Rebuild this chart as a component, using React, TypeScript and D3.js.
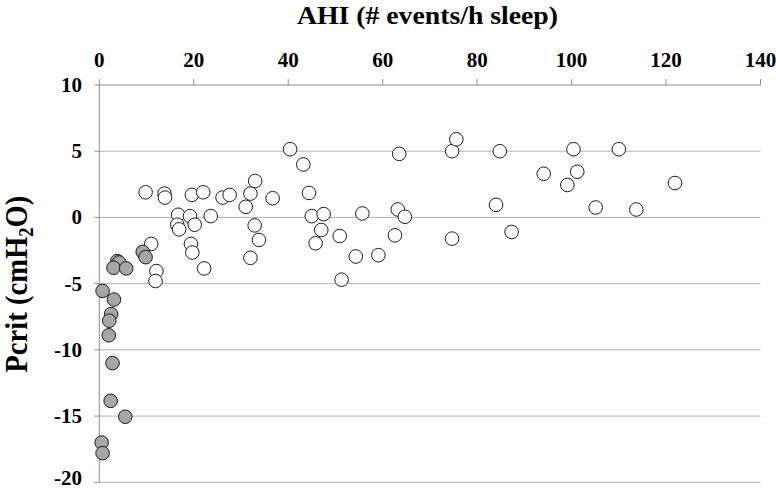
import React from 'react'
import * as d3 from 'd3'

// Pcrit vs AHI, grey = low AHI group, white = the rest
const greyAhi = [3.8, 4.2, 3.0, 5.7, 9.2, 9.8, 0.7, 3.1, 2.5, 2.1, 2.0, 2.8, 2.4, 5.5, 0.5, 0.7]
const greyPcrit = [-3.3, -3.4, -3.8, -3.85, -2.6, -3.0, -5.55, -6.2, -7.3, -7.8, -8.9, -11.0, -13.85, -15.05, -17.0, -17.8]

const whiteAhi = [
	9.8, 13.8, 13.9, 19.6, 22.0, 26.1, 27.6, 32.0, 33.0, 31.0,
	16.7, 19.2, 23.6, 16.5, 16.9, 20.2, 32.9, 33.8, 11.0, 19.4,
	19.7, 32.0, 22.2, 12.1, 11.9, 40.4, 43.2, 36.7, 44.4, 45.0,
	47.5, 55.7, 63.2, 64.7, 84.0, 47.0, 45.8, 50.9, 62.6, 74.7,
	87.3, 54.3, 59.1, 51.3, 63.5, 74.7, 75.6, 84.8, 100.4, 110.0,
	94.1, 101.2, 99.1, 121.9, 105.1, 113.7,
]
const whitePcrit = [
	1.9, 1.8, 1.5, 1.7, 1.9, 1.5, 1.7, 1.8, 2.75, 0.8,
	0.2, 0.1, 0.1, -0.55, -0.9, -0.55, -0.6, -1.7, -2.0, -2.0,
	-2.65, -3.05, -3.85, -4.05, -4.8, 5.15, 4.0, 1.45, 1.85, 0.1,
	0.25, 0.3, 0.6, 0.05, 0.95, -0.95, -1.95, -1.4, -1.35, -1.6,
	-1.1, -2.95, -2.85, -4.7, 4.8, 5.0, 5.9, 5.0, 5.15, 5.15,
	3.3, 3.45, 2.45, 2.6, 0.75, 0.6,
]

const xTicks = [0, 20, 40, 60, 80, 100, 120, 140]
const yTicks = [10, 5, 0, -5, -10, -15, -20]

const FONT = '"Liberation Serif", "Times New Roman", serif'

export default function App() {
	const width = 776
	const height = 490
	const left = 99.3, right = 760.5, top = 85, bottom = 482.3

	const x = d3.scaleLinear().domain([0, 140]).range([left, right])
	const y = d3.scaleLinear().domain([-20, 10]).range([bottom, top])

	const grey = greyAhi.map((a, i) => [a, greyPcrit[i]])
	const white = whiteAhi.map((a, i) => [a, whitePcrit[i]])

	return (
		<svg width={width} height={height} style={{position: 'absolute', left: 0, top: 0}} fontFamily={FONT}>
			<rect width={width} height={height} fill="#fff" />
			{/* gridlines */}
			{yTicks.filter(t => t !== 10).map(t => (
				<line key={`g${t}`} x1={left} x2={right} y1={y(t)} y2={y(t)} stroke="#b3b3b3" strokeWidth={1} />
			))}
			{/* top x axis */}
			<line x1={left} x2={right} y1={top} y2={top} stroke="#8c8c8c" strokeWidth={1} />
			{xTicks.map(t => (
				<g key={`x${t}`}>
					<line x1={x(t)} x2={x(t)} y1={top} y2={top - 6} stroke="#8c8c8c" />
					<text x={x(t)} y={67} textAnchor="middle" fontSize={21} fontWeight="bold">{t}</text>
				</g>
			))}
			{/* y axis */}
			<line x1={left} x2={left} y1={top} y2={bottom} stroke="#8c8c8c" strokeWidth={1} />
			{yTicks.map(t => (
				<g key={`y${t}`}>
					<line x1={left - 5} x2={left} y1={y(t)} y2={y(t)} stroke="#8c8c8c" />
					<text x={82} y={Math.min(y(t) + 7, 485)} textAnchor="end" fontSize={21} fontWeight="bold">{t}</text>
				</g>
			))}
			{/* titles */}
			<text x={427.5} y={24} textAnchor="middle" fontSize={26} fontWeight="bold"
				textLength={261} lengthAdjust="spacingAndGlyphs">AHI (# events/h sleep)</text>
			<text transform={`translate(27,${(top + bottom) / 2 + 0.5}) rotate(-90)`} textAnchor="middle" fontSize={31} fontWeight="bold"
				textLength={177} lengthAdjust="spacingAndGlyphs">
				Pcrit (cmH<tspan fontSize={20} dy={6}>2</tspan><tspan dy={-6}>O)</tspan>
			</text>
			{/* points */}
			{white.map((d, i) => (
				<circle key={`w${i}`} cx={x(d[0])} cy={y(d[1])} r={6.8} fill="#fff" stroke="#1a1a1a" strokeWidth={1} />
			))}
			{grey.map((d, i) => (
				<circle key={`k${i}`} cx={x(d[0])} cy={y(d[1])} r={6.8} fill="#a6a6a6" stroke="#1a1a1a" strokeWidth={1} />
			))}
		</svg>
	)
}
